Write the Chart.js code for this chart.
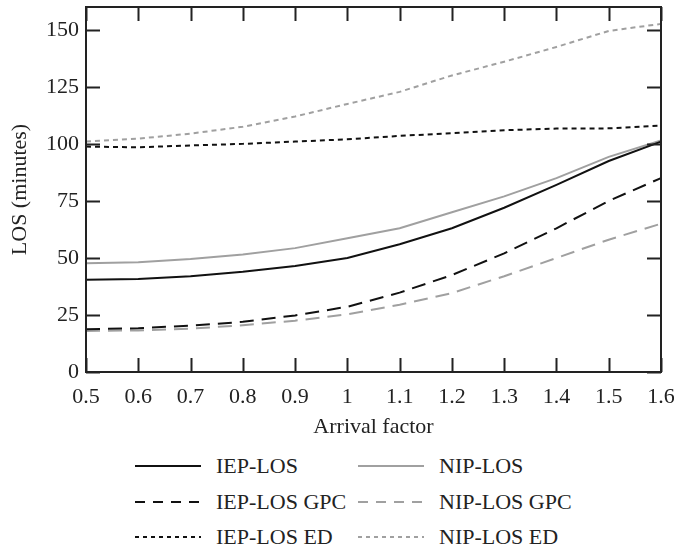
<!DOCTYPE html>
<html>
<head>
<meta charset="utf-8">
<script src="https://cdn.jsdelivr.net/npm/chart.js@4.4.0/dist/chart.umd.min.js"></script>
<style>
    body { margin: 0; background: #fff; }
    #wrap { position: relative; width: 674px; height: 548px; font-family: "Liberation Serif", "DejaVu Serif", serif; color: #222; }
    #chart-box { position: absolute; left: 0; top: 0; width: 674px; height: 440px; }
    .legend-item { position: absolute; height: 24px; display: flex; align-items: center; font-size: 22px; white-space: nowrap; }
    .legend-item svg { margin-right: 15px; }
</style>
</head>
<body>
<div id="wrap">
    <div id="chart-box"><canvas id="los-chart"></canvas></div>
    <div id="legend"></div>
</div>
<script>
const arrivalFactors = ['0.5', '0.6', '0.7', '0.8', '0.9', '1', '1.1', '1.2', '1.3', '1.4', '1.5', '1.6'];
const yTicks = [0, 25, 50, 75, 100, 125, 150];

const iepLos    = [40.4, 40.8, 42.0, 43.9, 46.5, 50.0, 56.0, 63.0, 72.0, 82.0, 92.5, 101.0];
const nipLos    = [47.7, 48.1, 49.5, 51.5, 54.3, 58.6, 63.0, 70.0, 77.0, 85.0, 94.3, 101.5];
const iepLosGpc = [18.7, 19.2, 20.3, 22.0, 24.8, 28.6, 34.8, 42.5, 52.0, 63.0, 75.0, 85.0];
const nipLosGpc = [18.0, 18.2, 19.0, 20.5, 22.5, 25.3, 29.5, 34.6, 42.0, 50.0, 58.0, 65.0];
const iepLosEd  = [98.8, 98.5, 99.3, 100.0, 101.0, 102.0, 103.5, 104.7, 106.0, 106.7, 106.8, 108.0];
const nipLosEd  = [101.0, 102.3, 104.5, 107.5, 112.0, 117.5, 122.8, 130.0, 136.0, 142.5, 149.5, 152.6];

const BLACK = '#111111';
const GRAY = '#a0a0a0';
const GPC_DASH = [14, 8];
const ED_DASH = [5, 4];
const FONT = '"Liberation Serif", "DejaVu Serif", serif';

const seriesDefs = [
    { label: 'IEP-LOS', data: iepLos, color: BLACK, dash: [] },
    { label: 'NIP-LOS', data: nipLos, color: GRAY, dash: [] },
    { label: 'IEP-LOS GPC', data: iepLosGpc, color: BLACK, dash: GPC_DASH },
    { label: 'NIP-LOS GPC', data: nipLosGpc, color: GRAY, dash: GPC_DASH },
    { label: 'IEP-LOS ED', data: iepLosEd, color: BLACK, dash: ED_DASH },
    { label: 'NIP-LOS ED', data: nipLosEd, color: GRAY, dash: ED_DASH }
];

// frame around plot area plus inward ticks on all four sides
const frameTicks = {
    id: 'frameTicks',
    afterDraw(chart) {
        const { ctx, chartArea: a, scales } = chart;
        const len = 14;
        ctx.save();
        ctx.strokeStyle = '#222';
        ctx.lineWidth = 2;
        ctx.setLineDash([]);
        ctx.beginPath();
        scales.x.ticks.forEach((t, i) => {
            const px = Math.round(scales.x.getPixelForTick(i)) + 0.5;
            ctx.moveTo(px, a.bottom); ctx.lineTo(px, a.bottom - len);
            ctx.moveTo(px, a.top); ctx.lineTo(px, a.top + len);
        });
        yTicks.forEach(v => {
            const py = Math.round(scales.y.getPixelForValue(v)) + 0.5;
            ctx.moveTo(a.left, py); ctx.lineTo(a.left + len, py);
            ctx.moveTo(a.right, py); ctx.lineTo(a.right - len, py);
        });
        ctx.stroke();
        ctx.strokeRect(a.left, a.top, a.right - a.left, a.bottom - a.top);
        ctx.restore();
    }
};

new Chart(document.getElementById('los-chart'), {
    type: 'line',
    data: {
        labels: arrivalFactors,
        datasets: seriesDefs.map(s => ({
            label: s.label,
            data: s.data,
            borderColor: s.color,
            backgroundColor: s.color,
            borderDash: s.dash,
            borderWidth: 2,
            pointRadius: 0,
            tension: 0,
            fill: false
        }))
    },
    options: {
        responsive: true,
        maintainAspectRatio: false,
        animation: false,
        layout: { padding: { top: 7, right: 13, left: 0, bottom: 0 } },
        plugins: { legend: { display: false }, tooltip: { enabled: false } },
        scales: {
            x: {
                type: 'category',
                offset: false,
                afterFit: (scale) => { scale.height = 68; scale.paddingLeft = 0; scale.paddingRight = 0; },
                grid: { display: false, drawTicks: false },
                border: { display: false },
                ticks: { color: '#222', font: { family: FONT, size: 22 }, padding: 12, maxRotation: 0, autoSkip: false },
                title: { display: true, text: 'Arrival factor', color: '#222', font: { family: FONT, size: 22 }, padding: { top: 0, bottom: 0 } }
            },
            y: {
                min: 0,
                max: 160,
                afterBuildTicks: (scale) => { scale.ticks = yTicks.map(v => ({ value: v })); },
                afterFit: (scale) => { scale.width = 86; scale.paddingTop = 0; scale.paddingBottom = 0; },
                grid: { display: false, drawTicks: false },
                border: { display: false },
                ticks: { color: '#222', font: { family: FONT, size: 22 }, padding: 7 },
                title: { display: true, text: 'LOS (minutes)', color: '#222', font: { family: FONT, size: 22 }, padding: { top: 7, bottom: 0 } }
            }
        }
    },
    plugins: [frameTicks]
});

// html legend, two columns
const legendBox = document.getElementById('legend');
const legendCols = [135, 358];
const legendRows = [466, 502, 537];
seriesDefs.forEach((s, i) => {
    const item = document.createElement('div');
    item.className = 'legend-item';
    item.style.left = legendCols[i % 2] + 'px';
    item.style.top = (legendRows[Math.floor(i / 2)] - 12) + 'px';
    item.innerHTML = `
        <svg width="66" height="6"><line x1="0" y1="3" x2="66" y2="3" stroke="${s.color}" stroke-width="2"
            stroke-dasharray="${s.dash.length ? (s.dash === GPC_DASH ? '10,8' : '4,4') : 'none'}"></line></svg>
        <span>${s.label}</span>`;
    legendBox.appendChild(item);
});
</script>
</body>
</html>
